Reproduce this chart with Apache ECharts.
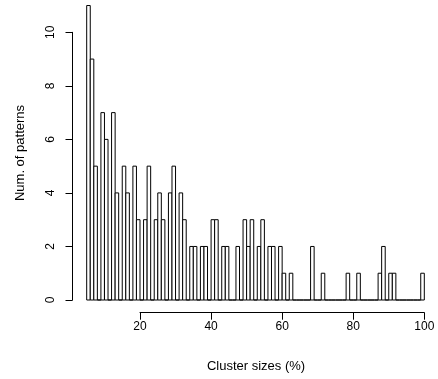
<!DOCTYPE html>
<html>
<head>
<meta charset="utf-8">
<script src="https://cdn.jsdelivr.net/npm/echarts@6/dist/echarts.min.js"></script>
<style>
  html, body { margin: 0; padding: 0; background: #fff; }
  #main { width: 438px; height: 379px; }
</style>
</head>
<body>
<div id="main"></div>
<script>
// histogram bins, width 1, left edges
var binLeft = [
     5,  6,  7,  8,  9, 10, 11, 12, 13, 14,
    15, 16, 17, 18, 19, 20, 21, 22, 23, 24,
    25, 26, 27, 28, 29, 30, 31, 32, 33, 34,
    35, 36, 37, 38, 39, 40, 41, 42, 43, 44,
    45, 46, 47, 48, 49, 50, 51, 52, 53, 54,
    55, 56, 57, 58, 59, 60, 61, 62, 63, 64,
    65, 66, 67, 68, 69, 70, 71, 72, 73, 74,
    75, 76, 77, 78, 79, 80, 81, 82, 83, 84,
    85, 86, 87, 88, 89, 90, 91, 92, 93, 94,
    95, 96, 97, 98, 99
];
var binCount = [
    11, 9, 5, 0, 7, 6, 0, 7, 4, 0,
     5, 4, 0, 5, 3, 0, 3, 5, 0, 3,
     4, 3, 0, 4, 5, 0, 4, 3, 0, 2,
     2, 0, 2, 2, 0, 3, 3, 0, 2, 2,
     0, 0, 2, 0, 3, 2, 3, 0, 2, 3,
     0, 2, 2, 0, 2, 1, 0, 1, 0, 0,
     0, 0, 0, 2, 0, 0, 1, 0, 0, 0,
     0, 0, 0, 1, 0, 0, 1, 0, 0, 0,
     0, 0, 1, 2, 0, 1, 1, 0, 0, 0,
     0, 0, 0, 0, 1
];
var binWidth = 1;
var xTicks = [20, 40, 60, 80, 100];
var yTicks = [0, 2, 4, 6, 8, 10];

var xTitle = 'Cluster sizes (%)';
var yTitle = 'Num. of patterns';

var FONT = '"Liberation Sans", Arial, Helvetica, sans-serif';

var histData = binLeft.map(function (b, i) { return [b, binCount[i]]; });

var myChart = echarts.init(document.getElementById('main'));
myChart.setOption({
    animation: false,
    backgroundColor: '#fff',
    grid: [
        // bars + y axis
        { left: 86.7, right: 13.7, top: 32.3, bottom: 79 },
        // x axis only (R draws it from first to last tick)
        { left: 140, right: 13.7, top: 32.3, bottom: 66.3 }
    ],
    xAxis: [
        { gridIndex: 0, type: 'value', min: 5, max: 100, show: false },
        {
            gridIndex: 1, type: 'value', min: 20, max: 100, interval: 20,
            position: 'bottom',
            axisLine: { show: true, lineStyle: { color: '#000', width: 1 } },
            axisTick: { show: true, inside: false, length: 7, lineStyle: { color: '#000' } },
            axisLabel: { color: '#000', fontSize: 12, fontFamily: FONT, margin: 8, customValues: xTicks },
            splitLine: { show: false }
        }
    ],
    yAxis: [
        {
            gridIndex: 0, type: 'value', min: 0, max: 10, interval: 2,
            offset: 14.2,
            axisLine: { show: true, lineStyle: { color: '#000', width: 1 } },
            axisTick: { show: true, inside: false, length: 7, lineStyle: { color: '#000' } },
            axisLabel: {
                color: '#000', fontSize: 12, fontFamily: FONT, rotate: 90, margin: 16,
                customValues: yTicks
            },
            splitLine: { show: false }
        },
        { gridIndex: 1, type: 'value', show: false }
    ],
    graphic: [
        {
            type: 'text', x: 256, y: 366,
            style: {
                text: xTitle, fill: '#000', font: '13px ' + FONT,
                align: 'center', verticalAlign: 'middle'
            }
        },
        {
            type: 'text', x: 20, y: 153, rotation: Math.PI / 2,
            style: {
                text: yTitle, fill: '#000', font: '13px ' + FONT,
                align: 'center', verticalAlign: 'middle'
            }
        }
    ],
    series: [{
        type: 'custom',
        xAxisIndex: 0,
        yAxisIndex: 0,
        clip: false,
        data: histData,
        renderItem: function (params, api) {
            var x0 = api.value(0);
            var topLeft = api.coord([x0, api.value(1)]);
            var botRight = api.coord([x0 + binWidth, 0]);
            return {
                type: 'rect',
                shape: {
                    x: topLeft[0],
                    y: topLeft[1],
                    width: botRight[0] - topLeft[0],
                    height: botRight[1] - topLeft[1]
                },
                style: { fill: '#fff', stroke: '#000', lineWidth: 1 }
            };
        }
    }]
});
</script>
</body>
</html>
